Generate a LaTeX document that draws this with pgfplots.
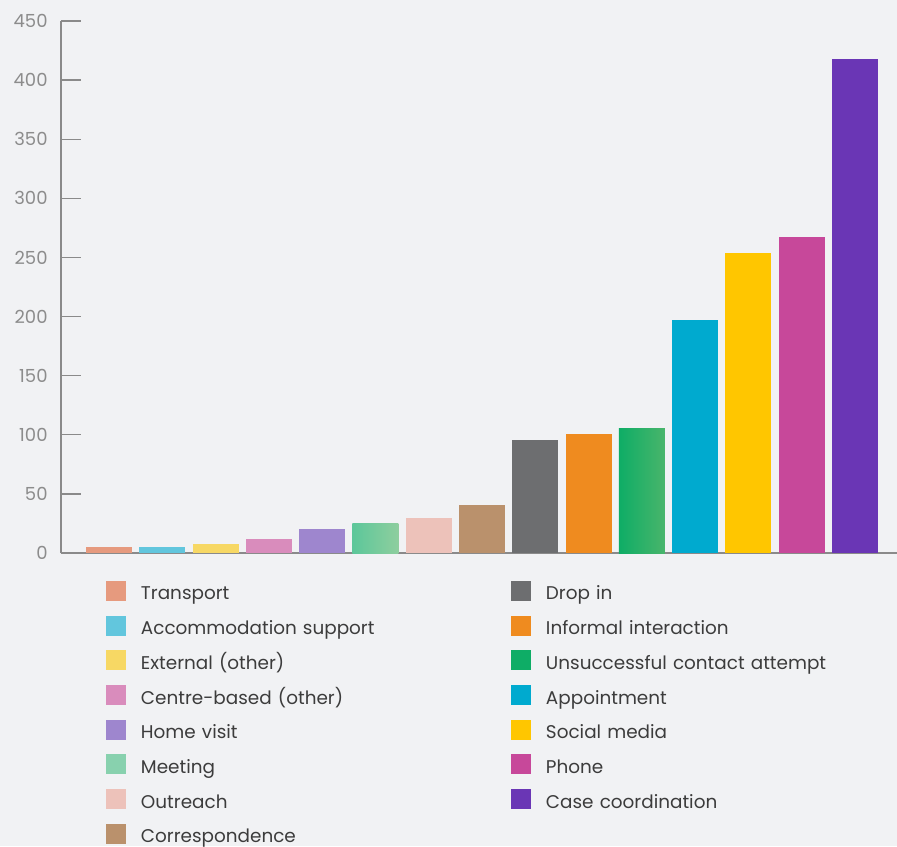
\documentclass[border=0pt]{standalone}
\usepackage{pgfplots}
\pgfplotsset{compat=1.18}
\usepackage{fontspec}
\setmainfont{Poppins}
\definecolor{bg}{HTML}{F1F2F4}
\definecolor{axisgray}{HTML}{8A8A8A}
\definecolor{tickgray}{HTML}{8C8C8C}
\definecolor{legtext}{HTML}{3C3C3C}
\definecolor{cTransport}{HTML}{E69A7E}
\definecolor{cAccom}{HTML}{62C6DD}
\definecolor{cExternal}{HTML}{F7D864}
\definecolor{cCentre}{HTML}{D98CBC}
\definecolor{cHome}{HTML}{9E86CE}
\definecolor{cMeetingA}{HTML}{5CC79A}
\definecolor{cMeetingB}{HTML}{8ECE9E}
\definecolor{cMeetingL}{HTML}{88D1AE}
\definecolor{cOutreach}{HTML}{EDC2BA}
\definecolor{cCorr}{HTML}{BA916C}
\definecolor{cDrop}{HTML}{6D6E70}
\definecolor{cInformal}{HTML}{EF8B1F}
\definecolor{cUnsA}{HTML}{0EAD66}
\definecolor{cUnsB}{HTML}{49B56B}
\definecolor{cAppt}{HTML}{00AACF}
\definecolor{cSocial}{HTML}{FFC600}
\definecolor{cPhone}{HTML}{C7489A}
\definecolor{cCase}{HTML}{6A36B5}
\begin{document}
\begin{tikzpicture}
\fill[bg] (-30.5pt,-146.5pt) rectangle (418pt,276.5pt);
\begin{axis}[
  at={(0,0)}, anchor=south west, scale only axis,
  width=418pt, height=266pt,
  xmin=-0.9, xmax=14.79, ymin=0, ymax=450,
  axis x line=bottom, axis y line=left,
  axis line style={-, draw=axisgray, line width=0.7pt},
  xtick=\empty, ytick={0,50,...,450},
  tick align=inside, major tick length=10pt,
  ytick style={draw=axisgray, line width=0.7pt},
  /pgf/number format/assume math mode=true,
  yticklabel style={font=\fontsize{9}{10}\selectfont, text=tickgray, inner sep=0pt, xshift=-6.5pt},
  ybar, bar width=23pt,
  every axis plot/.append style={bar shift=0pt, draw=none},
  legend columns=2, legend cell align=left,
  legend style={at={(0.0538,-0.0526)}, anchor=north west, draw=none, fill=none,
    inner sep=0pt, outer sep=0pt, row sep=7.35pt, column sep=0pt,
    font=\fontsize{9.2}{11}\selectfont, text=legtext,
    nodes={inner sep=0pt, text width=185pt, text height=9.5pt, text depth=0.5pt, align=left}},
  legend image code/.code={\fill[#1] (0pt,-5pt) rectangle (10pt,5pt); \path (17.5pt,0pt);},
]
\addplot[fill=cTransport] coordinates {(0,5)};
\addlegendentry{Transport}
\addplot[fill=cDrop] coordinates {(8,96)};
\addlegendentry{Drop in}
\addplot[fill=cAccom] coordinates {(1,5)};
\addlegendentry{Accommodation support}
\addplot[fill=cInformal] coordinates {(9,101)};
\addlegendentry{Informal interaction}
\addplot[fill=cExternal] coordinates {(2,8)};
\addlegendentry{External (other)}
\addplot[left color=cUnsA, right color=cUnsB, forget plot] coordinates {(10,105)};
\addlegendimage{fill=cUnsA}
\addlegendentry{Unsuccessful contact attempt}
\addplot[fill=cCentre] coordinates {(3,12)};
\addlegendentry{Centre-based (other)}
\addplot[fill=cAppt] coordinates {(11,197)};
\addlegendentry{Appointment}
\addplot[fill=cHome] coordinates {(4,20)};
\addlegendentry{Home visit}
\addplot[fill=cSocial] coordinates {(12,254)};
\addlegendentry{Social media}
\addplot[left color=cMeetingA, right color=cMeetingB, forget plot] coordinates {(5,25)};
\addlegendimage{fill=cMeetingL}
\addlegendentry{Meeting}
\addplot[fill=cPhone] coordinates {(13,267)};
\addlegendentry{Phone}
\addplot[fill=cOutreach] coordinates {(6,30)};
\addlegendentry{Outreach}
\addplot[fill=cCase] coordinates {(14,418)};
\addlegendentry{Case coordination}
\addplot[fill=cCorr] coordinates {(7,41)};
\addlegendentry{Correspondence}
\end{axis}
\pgfresetboundingbox
\useasboundingbox (-30.5pt,-146.5pt) rectangle (418pt,276.5pt);
\end{tikzpicture}
\end{document}
